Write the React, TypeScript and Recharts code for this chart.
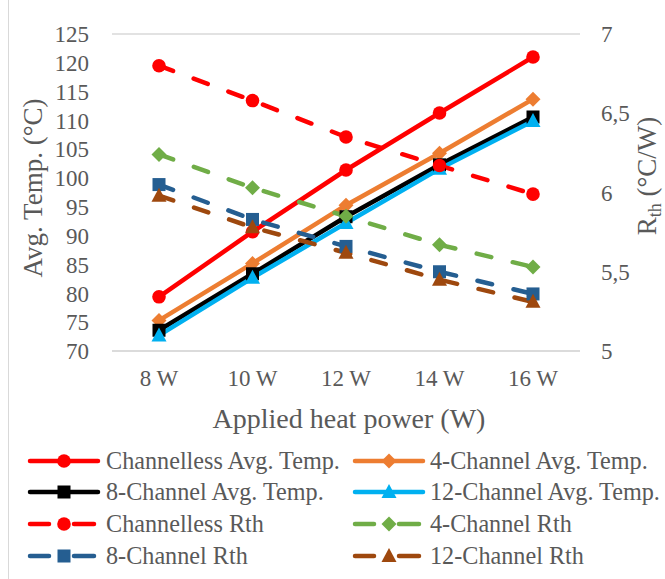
import React from 'react';
import { LineChart, Line, XAxis, YAxis, CartesianGrid } from 'recharts';

const categories = ['8 W', '10 W', '12 W', '14 W', '16 W'];
const channellessTemp = [79.4, 90.7, 101.4, 111.3, 121.0];
const ch4Temp = [75.3, 85.2, 95.3, 104.3, 113.7];
const ch8Temp = [73.6, 83.4, 93.3, 102.3, 110.6];
const ch12Temp = [72.7, 82.7, 92.2, 101.6, 109.9];
const channellessRth = [6.8, 6.58, 6.35, 6.17, 5.99];
const ch4Rth = [6.24, 6.03, 5.85, 5.67, 5.53];
const ch8Rth = [6.05, 5.83, 5.66, 5.5, 5.36];
const ch12Rth = [5.98, 5.78, 5.62, 5.45, 5.31];
const leftTicks = [70, 75, 80, 85, 90, 95, 100, 105, 110, 115, 120, 125];
const rightTicks = [5, 5.5, 6, 6.5, 7];

const FONT = 'Liberation Serif, Times New Roman, serif';
const GREY = '#595959';

const data = categories.map((c, i) => ({
  cat: c,
  chTemp: channellessTemp[i],
  c4Temp: ch4Temp[i],
  c8Temp: ch8Temp[i],
  c12Temp: ch12Temp[i],
  chRth: channellessRth[i],
  c4Rth: ch4Rth[i],
  c8Rth: ch8Rth[i],
  c12Rth: ch12Rth[i],
}));

type Shape = 'circle' | 'diamond' | 'square' | 'triangle';

function marker(shape: Shape, color: string, cx: number, cy: number, key?: any) {
  switch (shape) {
    case 'circle':
      return <circle key={key} cx={cx} cy={cy} r={6.8} fill={color} />;
    case 'diamond':
      return (
        <polygon
          key={key}
          points={`${cx},${cy - 7.5} ${cx + 7.5},${cy} ${cx},${cy + 7.5} ${cx - 7.5},${cy}`}
          fill={color}
        />
      );
    case 'square':
      return <rect key={key} x={cx - 6.5} y={cy - 6.5} width={13} height={13} fill={color} />;
    default:
      return (
        <polygon
          key={key}
          points={`${cx},${cy - 8} ${cx + 7.5},${cy + 6} ${cx - 7.5},${cy + 6}`}
          fill={color}
        />
      );
  }
}

const makeDot = (shape: Shape, color: string) => (props: any) => {
  const { cx, cy, index } = props;
  if (cx == null || cy == null) return <g key={`e${index}`} />;
  return marker(shape, color, cx, cy, `d${index}`);
};

const series = [
  { key: 'chTemp', name: 'Channelless Avg. Temp.', color: '#FF0000', shape: 'circle' as Shape, dashed: false, axis: 'left', width: 4.5 },
  { key: 'c4Temp', name: '4-Channel Avg. Temp.', color: '#ED7D31', shape: 'diamond' as Shape, dashed: false, axis: 'left', width: 4.5 },
  { key: 'c8Temp', name: '8-Channel Avg. Temp.', color: '#000000', shape: 'square' as Shape, dashed: false, axis: 'left', width: 4.5 },
  { key: 'c12Temp', name: '12-Channel Avg. Temp.', color: '#00B0F0', shape: 'triangle' as Shape, dashed: false, axis: 'left', width: 4.5 },
  { key: 'chRth', name: 'Channelless Rth', color: '#FF0000', shape: 'circle' as Shape, dashed: true, axis: 'right', width: 4.5 },
  { key: 'c4Rth', name: '4-Channel Rth', color: '#70AD47', shape: 'diamond' as Shape, dashed: true, axis: 'right', width: 4.5 },
  { key: 'c8Rth', name: '8-Channel Rth', color: '#255E91', shape: 'square' as Shape, dashed: true, axis: 'right', width: 4.5 },
  { key: 'c12Rth', name: '12-Channel Rth', color: '#9E480E', shape: 'triangle' as Shape, dashed: true, axis: 'right', width: 4.5 },
];

const legendColX = [28, 353];
const legendTextX = [106, 430];
const legendRowY = [461, 492, 524, 556];

function LegendBlock() {
  return (
    <svg
      width={665}
      height={579}
      style={{ position: 'absolute', left: 0, top: 0, pointerEvents: 'none' }}
    >
      {series.map((s, i) => {
        const col = i % 2;
        const row = Math.floor(i / 2);
        const x0 = legendColX[col];
        const y = legendRowY[row];
        const mx = x0 + 36;
        return (
          <g key={s.key}>
            {s.dashed ? (
              <>
                <line x1={x0 + 2} y1={y} x2={x0 + 21} y2={y} stroke={s.color} strokeWidth={4.5} strokeLinecap="round" />
                <line x1={x0 + 46} y1={y} x2={x0 + 66} y2={y} stroke={s.color} strokeWidth={4.5} strokeLinecap="round" />
              </>
            ) : (
              <line x1={x0 + 2} y1={y} x2={x0 + 70} y2={y} stroke={s.color} strokeWidth={4.5} strokeLinecap="round" />
            )}
            {marker(s.shape, s.color, mx, y)}
            <text
              x={legendTextX[col]}
              y={y + 8}
              style={{ fontFamily: FONT }}
              fontSize={24.2}
              fill={GREY}
            >
              {s.name}
            </text>
          </g>
        );
      })}
    </svg>
  );
}

const fmtRight = (v: number) => String(v).replace('.', ',');
const tickStyle = { fill: GREY, fontSize: 23, fontFamily: FONT };

export default function App() {
  return (
    <div style={{ position: 'absolute', left: 0, top: 0, width: 665, height: 579, background: '#fff', fontFamily: FONT }}>
      <div style={{ position: 'absolute', left: 8, top: 0, width: 1, height: 579, background: '#d9d9d9' }} />
      <LineChart
        width={665}
        height={579}
        data={data}
        margin={{ top: 34, right: 0, bottom: 168, left: 0 }}
        style={{ fontFamily: FONT }}
      >
        <CartesianGrid vertical={false} stroke="#d9d9d9" strokeWidth={1.3} />
        <XAxis
          dataKey="cat"
          padding={{ left: 47, right: 47 }}
          axisLine={{ stroke: '#d9d9d9', strokeWidth: 1.5 }}
          tickLine={false}
          tickMargin={13}
          height={60}
          tick={tickStyle}
          label={{
            content: () => (
              <text x={349} y={428} textAnchor="middle" style={{ fontFamily: FONT }} fontSize={28} fill={GREY}>
                Applied heat power (W)
              </text>
            ),
          }}
        />
        <YAxis
          yAxisId="left"
          orientation="left"
          domain={[70, 125]}
          ticks={leftTicks}
          interval={0}
          width={112}
          axisLine={false}
          tickLine={false}
          tickMargin={17}
          tick={tickStyle}
          label={{
            content: () => (
              <text
                transform="translate(42,188) rotate(-90)"
                textAnchor="middle"
                style={{ fontFamily: FONT }}
                fontSize={27}
                fill={GREY}
              >
                Avg. Temp. (°C)
              </text>
            ),
          }}
        />
        <YAxis
          yAxisId="right"
          orientation="right"
          domain={[5, 7]}
          ticks={rightTicks}
          interval={0}
          width={85}
          axisLine={false}
          tickLine={false}
          tickMargin={15}
          tickFormatter={fmtRight}
          tick={tickStyle}
          label={{
            content: () => (
              <text
                transform="translate(656,176) rotate(-90)"
                textAnchor="middle"
                style={{ fontFamily: FONT }}
                fontSize={27}
                fill={GREY}
              >
                R
                <tspan fontSize={18} dy={5}>th</tspan>
                <tspan dy={-5}> (°C/W)</tspan>
              </text>
            ),
          }}
        />
        {series.map((s) => (
          <Line
            key={s.key}
            yAxisId={s.axis}
            dataKey={s.key}
            name={s.name}
            stroke={s.color}
            strokeWidth={s.width}
            strokeDasharray={s.dashed ? '15 22' : undefined}
            strokeLinecap="round"
            dot={makeDot(s.shape, s.color)}
            activeDot={false}
            isAnimationActive={false}
          />
        ))}
      </LineChart>
      <LegendBlock />
    </div>
  );
}
